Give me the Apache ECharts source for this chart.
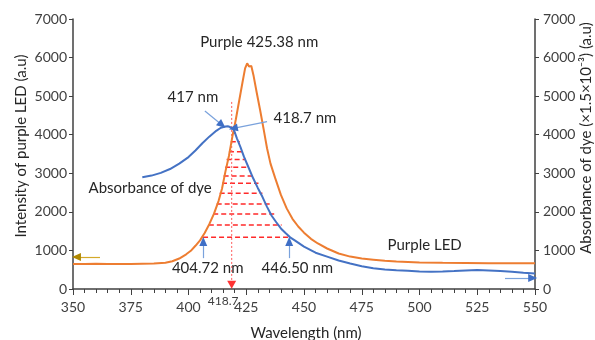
<!DOCTYPE html>
<html><head><meta charset="utf-8">
<script src="https://cdn.jsdelivr.net/npm/echarts@6/dist/echarts.min.js"></script>
<style>html,body{margin:0;padding:0;background:#fff}#c{width:595px;height:340px}</style>
</head><body><div id="c"></div>
<script>
// ---- data ----
const xTickLabels = [350, 375, 400, 425, 450, 475, 500, 525, 550];
const yTickLabels = [0, 1000, 2000, 3000, 4000, 5000, 6000, 7000];

const ledWavelength = [350,355,360,365,370,375,380,385,390,393,396,399,401,403,405,407,409,411,413,414.5,416,417.5,419,420.5,422,423.5,424.5,425.4,426.2,427.2,428.2,429.5,431,432.5,434,435.5,437.5,440,442.5,445,447.5,450,453,456,460,465,470,475,480,485,490,500,510,520,530,540,550];
const ledIntensity  = [650,645,655,650,645,650,655,660,680,720,790,900,990,1120,1260,1450,1680,1950,2280,2600,3050,3450,3950,4400,4900,5400,5720,5850,5770,5780,5520,5100,4640,4150,3650,3250,2880,2440,2090,1820,1620,1460,1300,1180,1050,920,840,790,760,730,710,690,680,675,670,668,665];

const dyeWavelength = [380,384,388,392,396,400,403,406,409,412,414,416,417,418,419.5,421,422.5,424,426,428,430,432,434,436,438,440,442,444,446,450,455,460,465,470,475,480,485,490,495,500,505,510,515,520,525,530,535,540,545,550];
const dyeAbsorbance = [2900,2940,3010,3110,3250,3420,3590,3780,3950,4100,4180,4215,4220,4200,4150,3900,3680,3430,3150,2870,2620,2390,2130,1900,1730,1570,1450,1340,1260,1100,940,840,740,660,590,540,505,485,470,455,450,455,465,480,490,480,465,445,420,400];

// overlap hatch (red dashed rows): level, left wavelength (LED edge), right wavelength (dye edge)
const overlapLevel = [1340,1660,1945,2204,2480,2740,2930,3155,3360,3560,3820,4040];
const overlapLeft  = [406.3,408.8,410.7,412.2,413.5,414.5,415.2,415.9,416.5,417.5,418.3,418.9];
const overlapRight = [444.2,440.3,437.4,435.2,432.0,430.3,428.5,426.0,424.9,423.8,422.2,420.5];

const crossWavelength = 418.7;
const crossTop = 4850;

// annotation arrows: [fromX, fromY, toX, toY]
const blueArrows = [
  [407.1, 4615, 414.5, 4252],
  [434.0, 4338, 419.4, 4166],
  [406.4, 800, 406.4, 1230],
  [443.6, 800, 443.6, 1230],
  [537.0, 285, 549.0, 285]
];
const goldArrows = [[361.7, 830, 351.5, 830]];

// annotation texts: [text, x, y]
const notes = [
  ['Purple 425.38 nm', 430.6, 6404],
  ['417 nm', 401.9, 4980],
  ['418.7 nm', 450.4, 4430],
  ['Absorbance of dye', 383.4, 2610],
  ['404.72 nm', 408.3, 550],
  ['446.50 nm', 447.1, 550],
  ['Purple LED', 502.2, 1140]
];

// ---- chart ----
const FONT = 'Lato';
const chart = echarts.init(document.getElementById('c'));
const axisCol = '#404040';

function zip(a, b) { return a.map((v, i) => [v, b[i]]); }

const series = [];
series.push({
  name: 'Purple LED', type: 'line', data: zip(ledWavelength, ledIntensity),
  showSymbol: false, yAxisIndex: 0, z: 3,
  lineStyle: { color: '#ed7d31', width: 2 }, itemStyle: { color: '#ed7d31' }
});
series.push({
  name: 'Absorbance of dye', type: 'line', data: zip(dyeWavelength, dyeAbsorbance),
  showSymbol: false, yAxisIndex: 1, z: 3,
  lineStyle: { color: '#4472c4', width: 2 }, itemStyle: { color: '#4472c4' }
});
overlapLevel.forEach((lv, i) => {
  series.push({
    type: 'line', data: [[overlapLeft[i], lv], [overlapRight[i], lv]],
    showSymbol: false, yAxisIndex: 0, z: 2, silent: true,
    lineStyle: { color: '#ff2a2a', width: 1.5, type: [5, 3] }
  });
});
series.push({
  type: 'line', data: [[crossWavelength, crossTop], [crossWavelength, 180]],
  showSymbol: false, yAxisIndex: 0, z: 2, silent: true,
  lineStyle: { color: '#ff5a5a', width: 1, type: [2, 2] }
});
series.push({
  type: 'scatter', data: [[crossWavelength, 110]], symbol: 'triangle', symbolRotate: 180,
  symbolSize: [9, 8], itemStyle: { color: '#ff0000' }, z: 4, silent: true
});

function arrowLines(list, lineCol, headCol) {
  const shafts = list.map(a => [
    { coord: [a[0], a[1]], symbol: 'none', lineStyle: { color: lineCol, width: 1.2, type: 'solid' } },
    { coord: [a[2], a[3]], symbol: 'none' }
  ]);
  const heads = list.map(a => {
    const mx = a[2] - (a[2] - a[0]) * 0.02, my = a[3] - (a[3] - a[1]) * 0.02;
    return [
      { coord: [mx, my], symbol: 'none', lineStyle: { color: headCol, width: 1, type: 'solid' } },
      { coord: [a[2], a[3]], symbol: 'triangle', symbolSize: [8, 9] }
    ];
  });
  return {
    type: 'line', data: [], yAxisIndex: 0, silent: true, z: 5,
    markLine: {
      silent: true, animation: false, symbol: ['none', 'none'],
      label: { show: false },
      data: shafts.concat(heads)
    }
  };
}
series.push(arrowLines(blueArrows, '#7aa2dc', '#3f6fc6'));
series.push(arrowLines(goldArrows, '#d4a92a', '#b08800'));

const yCommon = {
  type: 'value', min: 0, max: 7000, interval: 1000,
  splitLine: { show: false },
  axisLine: { show: true, lineStyle: { color: axisCol, width: 1.5 } },
  axisTick: { show: true, inside: false, length: 4, lineStyle: { color: axisCol } },
  axisLabel: { color: axisCol, fontFamily: FONT, fontSize: 14, margin: 6,
    formatter: v => yTickLabels.includes(v) ? String(v) : '' }
};

chart.setOption({
  animation: false,
  backgroundColor: '#fff',
  grid: { left: 73, right: 60, top: 19, bottom: 51, containLabel: false },
  xAxis: {
    type: 'value', min: 350, max: 550, interval: 25,
    splitLine: { show: false },
    axisLine: { show: true, onZero: false, lineStyle: { color: axisCol, width: 1.5 } },
    axisTick: { show: true, length: 6, lineStyle: { color: axisCol } },
    minorTick: { show: true, splitNumber: 5, length: 4, lineStyle: { color: axisCol } },
    minorSplitLine: { show: false },
    axisLabel: { color: axisCol, fontFamily: FONT, fontSize: 14, margin: 11,
      formatter: v => xTickLabels.includes(v) ? String(v) : '' }
  },
  yAxis: [
    Object.assign({ position: 'left' }, yCommon),
    Object.assign({}, yCommon, { position: 'right', axisLabel: Object.assign({}, yCommon.axisLabel, { margin: 8 }) })
  ],
  series: series
});

// annotations & axis titles
const g = [];
notes.forEach(n => {
  const p = chart.convertToPixel({ gridIndex: 0 }, [n[1], n[2]]);
  g.push({ type: 'text', x: p[0], y: p[1], silent: true, z: 10,
    style: { text: n[0], fill: '#262626', font: '15px ' + FONT, align: 'center', verticalAlign: 'middle' } });
});
const pc = chart.convertToPixel({ gridIndex: 0 }, [crossWavelength - 3.7, 0]);
g.push({ type: 'text', x: pc[0], y: pc[1] + 12, silent: true, z: 10,
  style: { text: String(crossWavelength), fill: axisCol, font: '12px ' + FONT, align: 'center', verticalAlign: 'middle' } });
g.push({ type: 'text', x: 306, y: 333, silent: true,
  style: { text: 'Wavelength (nm)', fill: '#262626', font: '15px ' + FONT, align: 'center', verticalAlign: 'middle' } });
g.push({ type: 'text', x: 21, y: 146, rotation: Math.PI / 2, silent: true,
  style: { text: 'Intensity of purple LED (a.u)', fill: '#262626', font: '15px ' + FONT, align: 'center', verticalAlign: 'middle' } });
g.push({ type: 'text', x: 586, y: 138, rotation: Math.PI / 2, silent: true,
  style: { text: 'Absorbance of dye (×1.5×10⁻³) (a.u)', fill: '#262626', font: '15px ' + FONT, align: 'center', verticalAlign: 'middle' } });
chart.setOption({ graphic: g });
</script></body></html>
